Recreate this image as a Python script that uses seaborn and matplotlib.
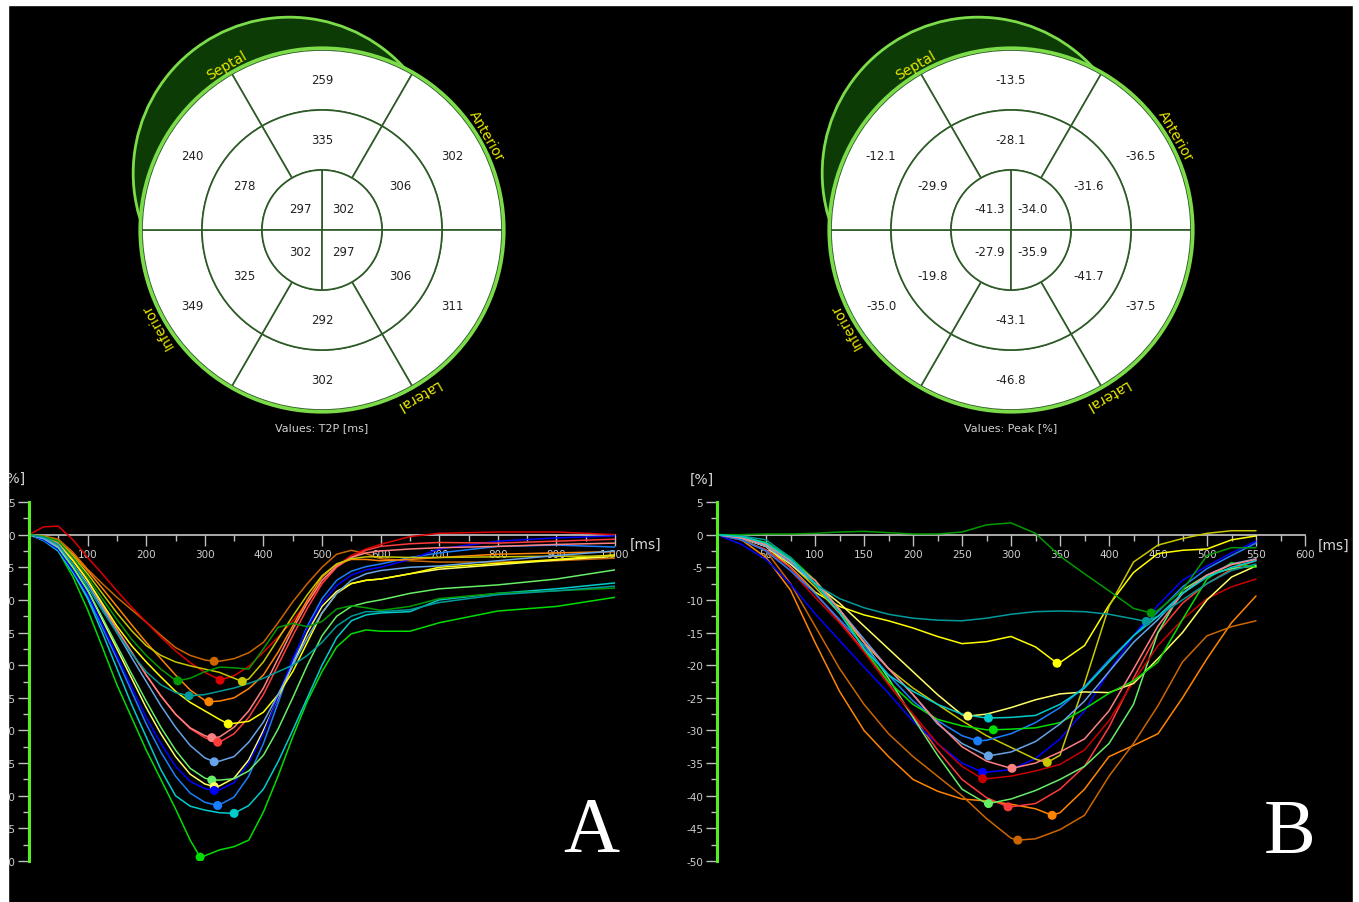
import numpy as np
import pandas as pd
import matplotlib
matplotlib.use("Agg")
import matplotlib.pyplot as plt
import seaborn as sns
from matplotlib.patches import Wedge, Circle, Rectangle
from matplotlib.ticker import FixedLocator

# ---------------- bullseye data ----------------
basal_angles = [90, 30, -30, 270, 210, 150]
apical_angles = [45, 135, 225, 315]

t2p_basal = [259, 302, 311, 302, 349, 240]
t2p_mid = [335, 306, 306, 292, 325, 278]
t2p_apical = [302, 297, 302, 297]

peak_basal = [-13.5, -36.5, -37.5, -46.8, -35.0, -12.1]
peak_mid = [-28.1, -31.6, -41.7, -43.1, -19.8, -29.9]
peak_apical = [-34.0, -41.3, -27.9, -35.9]

wall_names = ["Septal", "Anterior", "Lateral", "Inferior"]
wall_angles = [120, 30, -60, 210]

# ---------------- strain curves, panel A (T2P) ----------------
a_time = [0, 25, 50, 75, 100, 125, 150, 175, 200, 225, 250, 275, 300, 325, 350, 375, 400,
          425, 450, 475, 500, 525, 550, 575, 600, 650, 700, 800, 900, 1000]
a_brown = [0, -0.2, -0.7, -2.7, -5.3, -7.5, -9.6, -11.5, -13.4, -15.4, -17.3, -18.5, -19.2, -19.4, -19.0,
           -18.1, -16.5, -13.5, -10.3, -7.5, -5.0, -3.0, -2.4, -2.9, -3.7, -4.0, -4.2, -4.2, -4.0, -3.6]
a_dkgreen = [0, -0.3, -1.0, -3.5, -6.5, -9.8, -13.0, -16.0, -18.5, -20.6, -22.3, -22.0, -21.0, -20.3, -20.4,
             -20.6, -17.5, -14.2, -13.6, -14.1, -13.3, -11.4, -10.9, -11.2, -11.6, -11.0, -9.8, -9.0, -8.6, -8.2]
a_red = [0, 1.2, 1.3, -0.8, -3.5, -6.0, -8.6, -11.1, -13.4, -15.7, -17.8, -19.6, -21.1, -22.2, -21.6,
         -20.2, -18.0, -15.7, -13.2, -10.4, -7.5, -4.8, -3.2, -2.2, -1.5, -0.3, 0.2, 0.4, 0.4, 0.0]
a_olive = [0, -0.3, -1.0, -3.3, -6.0, -9.0, -12.0, -14.7, -17.0, -18.5, -19.5, -20.1, -20.6, -21.1, -22.0,
           -22.1, -19.5, -16.0, -12.5, -9.2, -6.3, -4.5, -3.7, -3.4, -3.4, -3.5, -3.5, -3.4, -3.3, -3.3]
a_teal = [0, -0.4, -1.5, -4.5, -8.0, -11.6, -15.0, -18.2, -21.0, -23.0, -24.2, -24.7, -24.5, -24.0, -23.5,
          -22.8, -22.0, -21.0, -20.0, -18.5, -16.5, -14.0, -12.5, -11.8, -11.8, -11.5, -10.4, -9.2, -8.6, -7.9]
a_orange = [0, -0.3, -1.0, -3.0, -5.5, -8.2, -11.0, -13.8, -16.5, -19.0, -21.5, -23.8, -25.4, -25.5, -25.0,
            -23.6, -21.5, -18.0, -14.0, -10.0, -6.5, -4.5, -3.8, -3.8, -4.0, -3.8, -3.5, -3.0, -2.8, -2.6]
a_yellow = [0, -0.5, -1.5, -4.0, -7.0, -10.5, -14.0, -17.0, -19.5, -21.8, -24.0, -25.7, -27.0, -28.3, -28.9,
            -28.6, -27.2, -24.5, -21.0, -16.5, -12.0, -9.0, -7.5, -7.0, -6.8, -6.0, -5.0, -4.4, -3.8, -3.1]
a_salmon = [0, -0.4, -1.2, -3.8, -7.0, -10.8, -14.5, -18.0, -21.5, -24.7, -27.5, -29.6, -30.8, -31.0, -29.5,
            -27.0, -23.5, -19.0, -14.5, -10.5, -7.0, -4.8, -3.5, -2.8, -2.5, -2.2, -2.0, -1.8, -1.5, -1.3]
a_lightred = [0, -0.4, -1.2, -3.8, -7.0, -10.8, -14.5, -18.0, -21.5, -24.7, -27.5, -29.7, -31.1, -31.8, -30.5,
              -28.0, -24.5, -20.0, -15.5, -11.3, -7.5, -5.0, -3.5, -2.4, -1.8, -1.4, -1.2, -1.3, -1.0, -0.7]
a_lightblue = [0, -0.6, -1.8, -4.5, -7.5, -11.2, -15.0, -18.8, -22.5, -26.2, -29.5, -32.3, -34.2, -34.7, -34.0,
               -31.8, -28.7, -24.5, -20.0, -15.8, -12.0, -9.0, -7.0, -6.0, -5.5, -5.0, -4.8, -4.0, -3.2, -2.5]
a_lightgreen = [0, -0.6, -2.0, -5.0, -8.5, -12.7, -17.0, -21.3, -25.5, -29.5, -33.0, -35.8, -37.3, -37.6, -37.4,
                -36.2, -33.8, -29.8, -25.0, -20.0, -15.5, -12.5, -11.0, -10.4, -10.0, -9.0, -8.3, -7.7, -6.8, -5.4]
a_paleyellow = [0, -0.6, -2.0, -5.0, -8.5, -13.0, -17.5, -22.0, -26.5, -30.5, -34.0, -36.7, -38.2, -38.5, -37.3,
                -34.5, -30.0, -25.0, -20.0, -15.0, -11.0, -8.7, -7.5, -7.0, -6.8, -6.0, -5.3, -4.6, -3.9, -3.3]
a_blue = [0, -0.8, -2.3, -5.5, -9.0, -13.7, -18.5, -23.3, -28.0, -32.0, -35.5, -37.8, -38.9, -39.1, -38.0,
          -35.0, -30.5, -24.8, -19.0, -14.3, -10.5, -7.8, -6.2, -5.4, -5.0, -3.8, -2.2, -1.0, -0.5, -0.2]
a_dodger = [0, -0.9, -2.5, -5.8, -9.5, -14.2, -19.0, -24.0, -29.0, -33.3, -37.0, -39.6, -41.0, -41.4, -40.2,
            -37.0, -32.0, -25.8, -19.5, -14.0, -9.8, -7.0, -5.6, -4.9, -4.5, -3.5, -2.8, -1.8, -1.6, -1.9]
a_cyan = [0, -0.9, -2.5, -5.8, -9.8, -15.0, -20.5, -26.0, -31.0, -36.0, -40.0, -41.6, -42.2, -42.6, -42.7,
          -41.5, -39.0, -34.8, -30.0, -25.0, -20.0, -15.8, -13.2, -12.3, -12.0, -11.8, -10.0, -9.0, -8.3, -7.4]
a_green = [0, -0.7, -2.5, -6.5, -11.5, -17.2, -23.0, -28.0, -33.0, -37.5, -42.0, -46.8, -49.2, -48.3, -47.8,
           -46.8, -42.5, -37.0, -31.0, -25.5, -21.0, -17.2, -15.2, -14.6, -14.8, -14.8, -13.5, -11.7, -11.0, -9.6]

a_names = ["brown", "dkgreen", "red", "olive", "teal", "orange", "yellow", "salmon",
           "lightred", "lightblue", "lightgreen", "paleyellow", "blue", "dodger", "cyan", "green"]
a_peak_t = [316, 254, 326, 364, 273, 307, 340, 312, 322, 316, 312, 316, 316, 322, 350, 292]
a_peak_v = [-19.4, -22.4, -22.3, -22.5, -24.7, -25.6, -29.0, -31.1, -31.8, -34.8, -37.6, -38.6, -39.2, -41.5, -42.7, -49.4]
a_xticks = [100, 200, 300, 400, 500, 600, 700, 800, 900, 1000]
a_xlabels = ["100", "200", "300", "400", "500", "600", "700", "800", "900", "1,000"]

# ---------------- strain curves, panel B (Peak) ----------------
b_time = [0, 25, 50, 75, 100, 125, 150, 175, 200, 225, 250, 275, 300, 325, 350, 375, 400, 425, 450, 475, 500, 525, 550]
b_dkgreen = [0, 0.0, 0.1, 0.1, 0.2, 0.4, 0.5, 0.3, 0.1, 0.1, 0.4, 1.5, 1.8, 0.2, -3.3, -6.0, -8.6, -11.3, -11.6, -8.5, -3.2, -2.0, -2.0]
b_teal = [0, -0.2, -0.8, -3.5, -7.6, -9.8, -11.2, -12.2, -12.8, -13.1, -13.2, -12.8, -12.2, -11.8, -11.7, -11.8, -12.2, -12.9, -12.5, -10.0, -7.5, -5.5, -4.5]
b_yellow = [0, -0.5, -1.8, -5.0, -8.8, -11.0, -12.3, -13.2, -14.3, -15.6, -16.7, -16.4, -15.6, -17.2, -19.6, -17.0, -10.8, -5.8, -2.9, -2.4, -2.2, -0.8, -0.2]
b_olive = [0, -0.5, -1.8, -4.5, -8.0, -12.0, -16.5, -20.5, -23.5, -26.0, -28.5, -30.8, -32.6, -34.4, -33.8, -22.8, -11.0, -4.2, -1.6, -0.6, 0.2, 0.6, 0.6]
b_paleyellow = [0, -0.5, -1.8, -4.5, -7.5, -10.5, -14.0, -17.5, -21.0, -24.5, -27.6, -27.5, -26.5, -25.3, -24.4, -24.1, -24.2, -22.8, -19.0, -15.0, -10.0, -6.5, -4.8]
b_cyan = [0, -0.3, -1.3, -3.8, -7.5, -12.0, -17.5, -21.5, -24.0, -26.0, -27.5, -28.1, -28.0, -27.7, -26.0, -23.5, -19.5, -15.5, -12.5, -9.0, -6.5, -5.0, -4.0]
b_green = [0, -0.3, -1.2, -3.5, -7.0, -11.5, -17.5, -22.5, -26.0, -28.3, -29.3, -29.9, -29.8, -29.6, -28.8, -26.7, -24.3, -22.4, -19.5, -13.0, -6.8, -4.3, -5.0]
b_dodger = [0, -0.8, -2.5, -5.5, -9.0, -13.0, -17.0, -21.5, -25.5, -28.5, -30.8, -31.5, -30.5, -28.8, -26.5, -23.3, -19.2, -15.5, -11.8, -8.0, -5.2, -3.2, -1.3]
b_lightblue = [0, -0.5, -1.8, -4.3, -7.5, -11.5, -16.0, -20.5, -24.5, -29.0, -32.0, -33.8, -33.3, -31.7, -29.0, -25.5, -21.0, -16.5, -13.0, -9.0, -6.2, -4.5, -3.7]
b_salmon = [0, -0.5, -1.5, -4.0, -7.0, -11.5, -16.5, -20.5, -24.5, -28.8, -32.5, -34.7, -35.8, -35.0, -33.3, -31.3, -27.0, -20.6, -14.0, -9.0, -6.2, -4.6, -3.8]
b_blue = [0, -1.5, -3.8, -7.6, -12.1, -16.2, -20.3, -24.3, -28.6, -32.0, -35.0, -36.4, -36.0, -34.3, -31.3, -27.0, -21.0, -15.5, -10.8, -7.0, -4.8, -2.8, -1.0]
b_darkred = [0, -0.8, -2.5, -5.5, -9.6, -13.5, -18.0, -23.0, -27.5, -32.0, -35.5, -37.4, -37.0, -36.2, -35.2, -33.0, -28.5, -22.5, -17.0, -13.0, -9.8, -8.0, -6.8]
b_lightgreen = [0, -0.5, -1.5, -4.0, -7.0, -11.5, -16.5, -22.0, -28.0, -33.8, -39.0, -41.2, -40.5, -39.2, -37.5, -35.5, -32.0, -26.0, -15.0, -8.5, -6.2, -5.2, -4.8]
b_lightred = [0, -0.8, -2.3, -5.0, -9.0, -13.2, -17.8, -22.8, -27.8, -33.0, -37.5, -40.3, -41.7, -41.2, -39.0, -35.5, -29.5, -22.0, -15.0, -10.5, -7.5, -5.3, -4.0]
b_orange = [0, -0.8, -3.5, -8.5, -16.5, -24.0, -30.0, -34.0, -37.5, -39.3, -40.5, -40.8, -41.3, -42.0, -42.6, -39.0, -34.0, -32.3, -30.5, -25.0, -19.0, -13.5, -9.4]
b_brown = [0, -0.6, -2.5, -7.5, -14.0, -20.5, -26.0, -30.5, -34.0, -37.0, -40.0, -43.5, -46.5, -46.6, -45.2, -43.0, -37.0, -32.0, -26.2, -19.5, -15.5, -14.1, -13.2]

b_names = ["dkgreen", "teal", "yellow", "olive", "paleyellow", "cyan", "green", "dodger",
           "lightblue", "salmon", "blue", "darkred", "lightgreen", "lightred", "orange", "brown"]
b_peak_t = [443, 438, 347, 337, 256, 277, 282, 266, 277, 301, 271, 271, 277, 297, 342, 307]
b_peak_v = [-12.0, -13.3, -19.7, -34.9, -27.8, -28.1, -29.9, -31.6, -33.9, -35.8, -36.4, -37.4, -41.2, -41.7, -43.0, -46.8]
b_xticks = [50, 100, 150, 200, 250, 300, 350, 400, 450, 500, 550, 600]
b_xlabels = [str(v) for v in b_xticks]

y_ticks = [5, 0, -5, -10, -15, -20, -25, -30, -35, -40, -45, -50]
y_labels = [str(v) for v in y_ticks]

colors = {
    "brown": "#cc6600", "dkgreen": "#009a00", "red": "#dd0000", "darkred": "#c80000",
    "olive": "#c8c800", "teal": "#009a9a", "orange": "#ff8400", "yellow": "#ffff00",
    "salmon": "#ff8080", "lightred": "#ff3c3c", "lightblue": "#66a3e8", "lightgreen": "#66ee66",
    "paleyellow": "#ffff66", "blue": "#0000ff", "dodger": "#1a7fff", "cyan": "#00cccc",
    "green": "#00dd00",
}

lime = "#7ddc4a"
seg_line = "#2d5a27"
crescent = "#0d3b06"
wall_col = "#e8e800"

sns.set_style("white")
plt.rcParams["font.family"] = ["DejaVu Sans"]
plt.rcParams["axes.unicode_minus"] = False

W, H = 1359, 903
fig = plt.figure(figsize=(W / 100, H / 100), dpi=100, facecolor="black")


def draw_bullseye(cx, cy, basal, mid, apical, fmt, caption):
    half = 216
    ax = fig.add_axes([(cx - half) / W, 1 - (cy + half) / H, 2 * half / W, 2 * half / H])
    ax.set_xlim(-3.6, 3.6)
    ax.set_ylim(-3.6, 3.6)
    ax.set_aspect("equal")
    ax.axis("off")
    ax.add_patch(Circle((-0.547, 0.947), 2.6, facecolor=crescent, edgecolor=lime, lw=2, zorder=1))
    ax.add_patch(Circle((0, 0), 3.0, facecolor="white", edgecolor="none", zorder=2))
    for k, ang in enumerate(basal_angles):
        ax.add_patch(Wedge((0, 0), 3.0, ang - 30, ang + 30, width=1.0, facecolor="white",
                           edgecolor=seg_line, lw=1.2, zorder=3))
        ax.add_patch(Wedge((0, 0), 2.0, ang - 30, ang + 30, width=1.0, facecolor="white",
                           edgecolor=seg_line, lw=1.2, zorder=3))
        r = np.deg2rad(ang)
        ax.text(2.5 * np.cos(r), 2.5 * np.sin(r), fmt.format(basal[k]), ha="center", va="center",
                fontsize=8.5, color="#222222", zorder=6)
        ax.text(1.5 * np.cos(r), 1.5 * np.sin(r), fmt.format(mid[k]), ha="center", va="center",
                fontsize=8.5, color="#222222", zorder=6)
    for k, ang in enumerate(apical_angles):
        ax.add_patch(Wedge((0, 0), 1.0, ang - 45, ang + 45, facecolor="white",
                           edgecolor=seg_line, lw=1.2, zorder=3))
        r = np.deg2rad(ang)
        ax.text(0.5 * np.cos(r), 0.5 * np.sin(r), fmt.format(apical[k]), ha="center", va="center",
                fontsize=8.5, color="#222222", zorder=6)
    ax.add_patch(Circle((0, 0), 3.03, fill=False, edgecolor=lime, lw=2.6, zorder=5))
    for name, ang in zip(wall_names, wall_angles):
        r = np.deg2rad(ang)
        ax.text(3.17 * np.cos(r), 3.17 * np.sin(r), name, rotation=ang - 90, rotation_mode="anchor",
                ha="center", va="center", fontsize=10, color=wall_col, zorder=7)
    ax.text(0, -3.28, caption, ha="center", va="center", fontsize=8, color="#d0d0d0")


draw_bullseye(322, 231, t2p_basal, t2p_mid, t2p_apical, "{:d}", "Values: T2P [ms]")
draw_bullseye(1011, 231, peak_basal, peak_mid, peak_apical, "{:.1f}", "Values: Peak [%]")


def draw_strain(x0, x1, times, curves, names, peak_t, peak_v, xmax, xticks, xlabels, minor_step):
    ax = fig.add_axes([x0 / W, 1 - 862 / H, (x1 - x0) / W, 359 / H])
    rows = []
    for name, vals in zip(names, curves):
        for t, v in zip(times, vals):
            rows.append({"t": t, "v": v, "seg": name})
    for name, t, v in zip(names, peak_t, peak_v):
        if t not in times:
            rows.append({"t": t, "v": v, "seg": name})
    df = pd.DataFrame(rows).sort_values("t")
    sns.lineplot(data=df, x="t", y="v", hue="seg", palette=colors, estimator=None, sort=True,
                 legend=False, lw=1.1, ax=ax)
    sns.scatterplot(x=peak_t, y=peak_v, hue=names, palette=colors, s=42, linewidth=0,
                    legend=False, ax=ax, zorder=5)
    ax.set_facecolor("black")
    ax.set_xlim(0, xmax)
    ax.set_ylim(-50, 5)
    ax.set_axisbelow(True)
    for s in ["top", "right"]:
        ax.spines[s].set_visible(False)
    ax.spines["left"].set_color("#55ee22")
    ax.spines["left"].set_linewidth(2.2)
    ax.spines["bottom"].set_position(("data", 0))
    ax.spines["bottom"].set_color("#c8c8c8")
    ax.spines["bottom"].set_linewidth(1.2)
    ax.spines["bottom"].set_zorder(1)
    ax.set_xticks(xticks)
    ax.set_xticklabels(xlabels)
    ax.xaxis.set_minor_locator(FixedLocator(list(range(minor_step, xmax, minor_step))))
    ax.set_yticks(y_ticks)
    ax.set_yticklabels(y_labels)
    ax.yaxis.set_minor_locator(FixedLocator([v + 2.5 for v in y_ticks[1:]]))
    ax.tick_params(axis="both", which="major", length=8, width=1, color="#c0c0c0",
                   labelcolor="#d0d0d0", labelsize=7.5, pad=2, direction="out",
                   bottom=True, left=True)
    ax.tick_params(axis="both", which="minor", length=4, width=1, color="#c0c0c0",
                   direction="out", bottom=True, left=True)
    ax.set_xlabel("")
    ax.set_ylabel("")
    return ax


draw_strain(29, 615, a_time, [a_brown, a_dkgreen, a_red, a_olive, a_teal, a_orange, a_yellow, a_salmon,
                              a_lightred, a_lightblue, a_lightgreen, a_paleyellow, a_blue, a_dodger,
                              a_cyan, a_green],
            a_names, a_peak_t, a_peak_v, 1000, a_xticks, a_xlabels, 50)
draw_strain(717, 1305, b_time, [b_dkgreen, b_teal, b_yellow, b_olive, b_paleyellow, b_cyan, b_green,
                                b_dodger, b_lightblue, b_salmon, b_blue, b_darkred, b_lightgreen,
                                b_lightred, b_orange, b_brown],
            b_names, b_peak_t, b_peak_v, 600, b_xticks, b_xlabels, 25)

# axis unit labels
for px, py, txt in [(14, 479, "[%]"), (702, 480, "[%]")]:
    fig.text(px / W, 1 - py / H, txt, ha="center", va="center", fontsize=10, color="#d8d8d8")
for px, py in [(630, 545), (1318, 546)]:
    fig.text(px / W, 1 - py / H, "[ms]", ha="left", va="center", fontsize=10, color="#d8d8d8")

# panel letters
fig.text(591 / W, 1 - 851 / H, "A", ha="center", va="baseline", fontsize=56,
         family="Liberation Serif", color="white")
fig.text(1290 / W, 1 - 853 / H, "B", ha="center", va="baseline", fontsize=56,
         family="Liberation Serif", color="white")

# white page margins around the black panel
fig.add_artist(Rectangle((0, 0), 8 / W, 1, transform=fig.transFigure, color="white", zorder=10))
fig.add_artist(Rectangle((0, 1 - 6 / H), 1, 6 / H, transform=fig.transFigure, color="white", zorder=10))
fig.add_artist(Rectangle((1353 / W, 0), 6 / W, 1, transform=fig.transFigure, color="white", zorder=10))

fig.savefig("out.png", dpi=100, facecolor="black")
